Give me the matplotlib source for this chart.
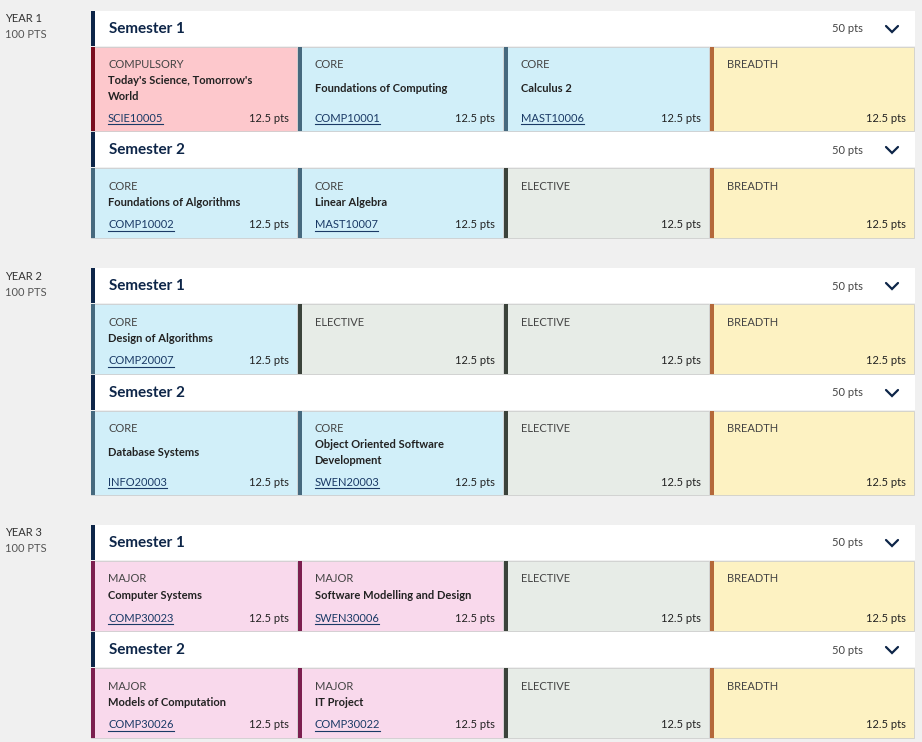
import matplotlib.pyplot as plt
from matplotlib.patches import Rectangle

# Course plan data
years = ["YEAR 1", "YEAR 2", "YEAR 3"]
year_pts = ["100 PTS", "100 PTS", "100 PTS"]
semesters = ["Semester 1", "Semester 2"]
semester_pts = "50 pts"
subject_pts = "12.5 pts"

types = [
    [["COMPULSORY", "CORE", "CORE", "BREADTH"], ["CORE", "CORE", "ELECTIVE", "BREADTH"]],
    [["CORE", "ELECTIVE", "ELECTIVE", "BREADTH"], ["CORE", "CORE", "ELECTIVE", "BREADTH"]],
    [["MAJOR", "MAJOR", "ELECTIVE", "BREADTH"], ["MAJOR", "MAJOR", "ELECTIVE", "BREADTH"]],
]
titles = [
    [["Today's Science, Tomorrow's\nWorld", "Foundations of Computing", "Calculus 2", ""],
     ["Foundations of Algorithms", "Linear Algebra", "", ""]],
    [["Design of Algorithms", "", "", ""],
     ["Database Systems", "Object Oriented Software\nDevelopment", "", ""]],
    [["Computer Systems", "Software Modelling and Design", "", ""],
     ["Models of Computation", "IT Project", "", ""]],
]
codes = [
    [["SCIE10005", "COMP10001", "MAST10006", ""], ["COMP10002", "MAST10007", "", ""]],
    [["COMP20007", "", "", ""], ["INFO20003", "SWEN20003", "", ""]],
    [["COMP30023", "SWEN30006", "", ""], ["COMP30026", "COMP30022", "", ""]],
]

# fill colour, left bar colour
palette = {
    "COMPULSORY": ("#fdc8cc", "#7a0c1e"),
    "CORE": ("#d1eff9", "#46697e"),
    "ELECTIVE": ("#e7ece7", "#3b433b"),
    "BREADTH": ("#fdf2c2", "#b4693a"),
    "MAJOR": ("#f9d9ec", "#7c1f4f"),
}

FONT = "Lato"
NAVY = "#0d2548"
TEXT = "#222222"

fig = plt.figure(figsize=(9.22, 7.42), dpi=100)
fig.patch.set_facecolor("#f0f0f0")
ax = fig.add_axes([0, 0, 1, 1])
ax.set_xlim(0, 922)
ax.set_ylim(742, 0)
ax.axis("off")
renderer = fig.canvas.get_renderer()

col_x = [91, 297.5, 503.5, 709.5, 915]
year_tops = [11, 268, 525]

for yi, year in enumerate(years):
    y = year_tops[yi]
    ax.text(5, y + 8, year, fontsize=8, family=FONT, color="#333333", va="center")
    ax.text(5, y + 24, year_pts[yi], fontsize=8, family=FONT, color="#555555", va="center")
    for si, sem in enumerate(semesters):
        # header
        ax.add_patch(Rectangle((91, y), 824, 35, facecolor="white", edgecolor="none"))
        ax.add_patch(Rectangle((91, y), 4, 35, facecolor=NAVY, edgecolor="none"))
        ax.text(109, y + 18, sem, fontsize=11, weight="bold", family=FONT, color=NAVY, va="center")
        ax.text(863, y + 18, semester_pts, fontsize=8, family=FONT, color="#444444",
                va="center", ha="right")
        ax.plot([886, 892, 898], [y + 15, y + 21, y + 15], color=NAVY, lw=1.6,
                solid_capstyle="round", solid_joinstyle="miter")
        y += 36
        row_titles = titles[yi][si]
        h = 84 if any("\n" in t for t in row_titles) else 70
        for ci in range(4):
            kind = types[yi][si][ci]
            fill, bar = palette[kind]
            x0, x1 = col_x[ci], col_x[ci + 1]
            ax.add_patch(Rectangle((x0, y), x1 - x0 - 1, h, facecolor=fill,
                                   edgecolor="#c8c8c8", lw=0.5))
            ax.add_patch(Rectangle((x0, y), 4, h, facecolor=bar, edgecolor="none"))
            tx = x0 + 17
            ax.text(tx, y + 18, kind, fontsize=8, family=FONT, color="#444444", va="center")
            title = row_titles[ci]
            if title:
                n = title.count("\n") + 1
                mid = (y + 18 + y + h - 13) / 2 - 3
                ax.text(tx, mid, title, fontsize=8, weight="bold", family=FONT, color=TEXT,
                        va="center", linespacing=1.55)
            code = codes[yi][si][ci]
            if code:
                t = ax.text(tx, y + h - 13, code, fontsize=8, family=FONT, color="#1a3a66",
                            va="center")
                bb = t.get_window_extent(renderer)
                ax.plot([tx, tx + bb.width], [y + h - 7, y + h - 7], color="#1a3a66", lw=0.8)
            ax.text(x1 - 9, y + h - 13, subject_pts, fontsize=8, family=FONT, color=TEXT,
                    va="center", ha="right")
        y += h + 1

fig.savefig("out.png", dpi=100, facecolor=fig.get_facecolor())
